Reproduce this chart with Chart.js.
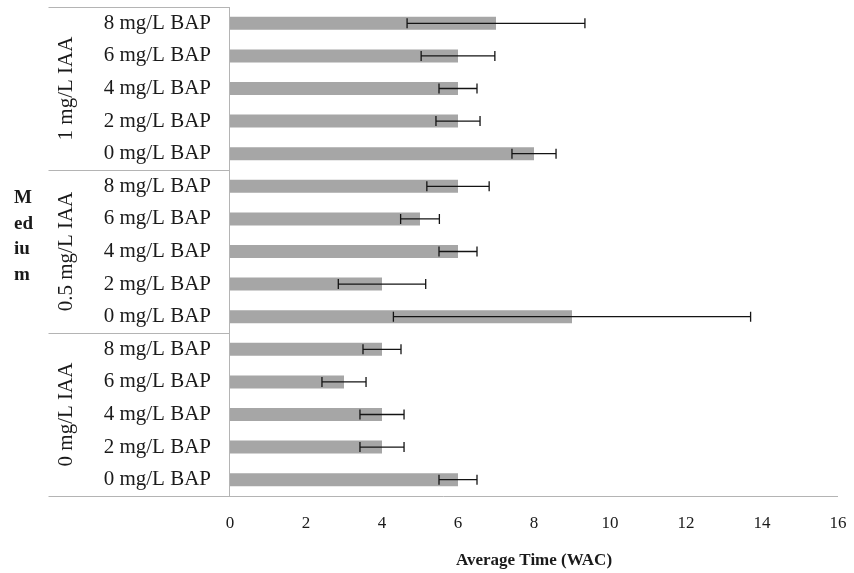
<!DOCTYPE html>
<html>
<head>
<meta charset="utf-8">
<script src="https://cdn.jsdelivr.net/npm/chart.js@4.4.1/dist/chart.umd.min.js"></script>
<style>
  html, body { margin: 0; padding: 0; background: #ffffff; }
  #wrap { width: 854px; height: 573px; }
</style>
</head>
<body>
<div id="wrap"><canvas id="c" width="854" height="573"></canvas></div>
<script>
// ---- data ----
const groups = ['1 mg/L IAA', '0.5 mg/L IAA', '0 mg/L IAA'];
const bapLevels = ['8 mg/L BAP', '6 mg/L BAP', '4 mg/L BAP', '2 mg/L BAP', '0 mg/L BAP'];
const means1IAA = [7, 6, 6, 6, 8];
const means05IAA = [6, 5, 6, 4, 9];
const means0IAA = [4, 3, 4, 4, 6];
const err1IAA = [2.34, 0.97, 0.5, 0.58, 0.58];
const err05IAA = [0.82, 0.51, 0.5, 1.15, 4.7];
const err0IAA = [0.5, 0.58, 0.58, 0.58, 0.5];
const xTicks = [0, 2, 4, 6, 8, 10, 12, 14, 16];
const xTitle = 'Average Time (WAC)';
const yTitleParts = ['M', 'ed', 'iu', 'm'];

const labels = [].concat(bapLevels, bapLevels, bapLevels);
const means = [].concat(means1IAA, means05IAA, means0IAA);
const errs = [].concat(err1IAA, err05IAA, err0IAA);

const SERIF = '"Liberation Serif", "Times New Roman", serif';
const LINE = '#b4b4b4';

const decor = {
  id: 'decor',
  afterDatasetsDraw(chart) {
    const ctx = chart.ctx;
    const xs = chart.scales.x;
    const meta = chart.getDatasetMeta(0);
    // error bars
    ctx.save();
    ctx.strokeStyle = '#141414';
    ctx.lineWidth = 1.3;
    means.forEach((m, i) => {
      const y = meta.data[i].y;
      const x1 = xs.getPixelForValue(m - errs[i]);
      const x2 = xs.getPixelForValue(m + errs[i]);
      ctx.beginPath();
      ctx.moveTo(x1, y); ctx.lineTo(x2, y);
      ctx.moveTo(x1, y - 5); ctx.lineTo(x1, y + 5);
      ctx.moveTo(x2, y - 5); ctx.lineTo(x2, y + 5);
      ctx.stroke();
    });
    ctx.restore();
  },
  afterDraw(chart) {
    const ctx = chart.ctx;
    const ca = chart.chartArea;
    const ys = chart.scales.y;
    const leftX = 48.5;
    ctx.save();
    ctx.strokeStyle = LINE;
    ctx.lineWidth = 1;
    // vertical axis line
    ctx.beginPath();
    ctx.moveTo(Math.round(ca.left) - 0.5, ca.top);
    ctx.lineTo(Math.round(ca.left) - 0.5, ca.bottom);
    ctx.stroke();
    // horizontal lines: top, group dividers, bottom
    const rowH = (ca.bottom - ca.top) / labels.length;
    for (let g = 0; g <= groups.length; g++) {
      const y = Math.round(ca.top + g * 5 * rowH) + 0.5;
      ctx.beginPath();
      ctx.moveTo(leftX, y);
      ctx.lineTo(g === groups.length ? ca.right : ca.left, y);
      ctx.stroke();
    }
    // group labels
    ctx.fillStyle = '#1a1a1a';
    ctx.font = '21px ' + SERIF;
    ctx.textAlign = 'center';
    ctx.textBaseline = 'middle';
    groups.forEach((g, gi) => {
      const yc = ys.getPixelForValue(gi * 5 + 2);
      ctx.save();
      ctx.translate(65, yc);
      ctx.rotate(-Math.PI / 2);
      ctx.fillText(g, 0, 1);
      ctx.restore();
    });
    // y title "Medium" split
    ctx.font = 'bold 19px ' + SERIF;
    ctx.textAlign = 'left';
    const midY = (ca.top + ca.bottom) / 2 - 15;
    const lh = 25.6;
    yTitleParts.forEach((t, i) => {
      ctx.fillText(t, 14, midY + (i - 1.5) * lh);
    });
    ctx.restore();
  }
};

new Chart(document.getElementById('c'), {
  type: 'bar',
  data: {
    labels: labels,
    datasets: [{
      data: means,
      backgroundColor: '#a6a6a6',
      borderWidth: 0,
      barPercentage: 0.4,
      categoryPercentage: 1.0
    }]
  },
  options: {
    indexAxis: 'y',
    responsive: false,
    animation: false,
    layout: { padding: { top: 7, right: 16, bottom: 0, left: 0 } },
    plugins: { legend: { display: false }, tooltip: { enabled: false } },
    scales: {
      x: {
        min: 0, max: 16,
        afterBuildTicks(scale) { scale.ticks = xTicks.map(v => ({ value: v })); },
        afterFit(scale) { scale.height = 77; scale.paddingLeft = 0; scale.paddingRight = 0; },
        grid: { display: false, drawTicks: false },
        border: { display: false },
        ticks: { font: { family: SERIF, size: 17 }, color: '#1a1a1a', padding: 17, maxRotation: 0 },
        title: { display: true, text: xTitle, font: { family: SERIF, size: 17, weight: 'bold' }, color: '#1a1a1a', padding: { top: 0, bottom: 2 } }
      },
      y: {
        afterFit(scale) { scale.width = 230; scale.paddingTop = 0; scale.paddingBottom = 0; },
        grid: { display: false, drawTicks: false },
        border: { display: false },
        ticks: { font: { family: SERIF, size: 21 }, color: '#1a1a1a', padding: 19, autoSkip: false }
      }
    }
  },
  plugins: [decor]
});
</script>
</body>
</html>
